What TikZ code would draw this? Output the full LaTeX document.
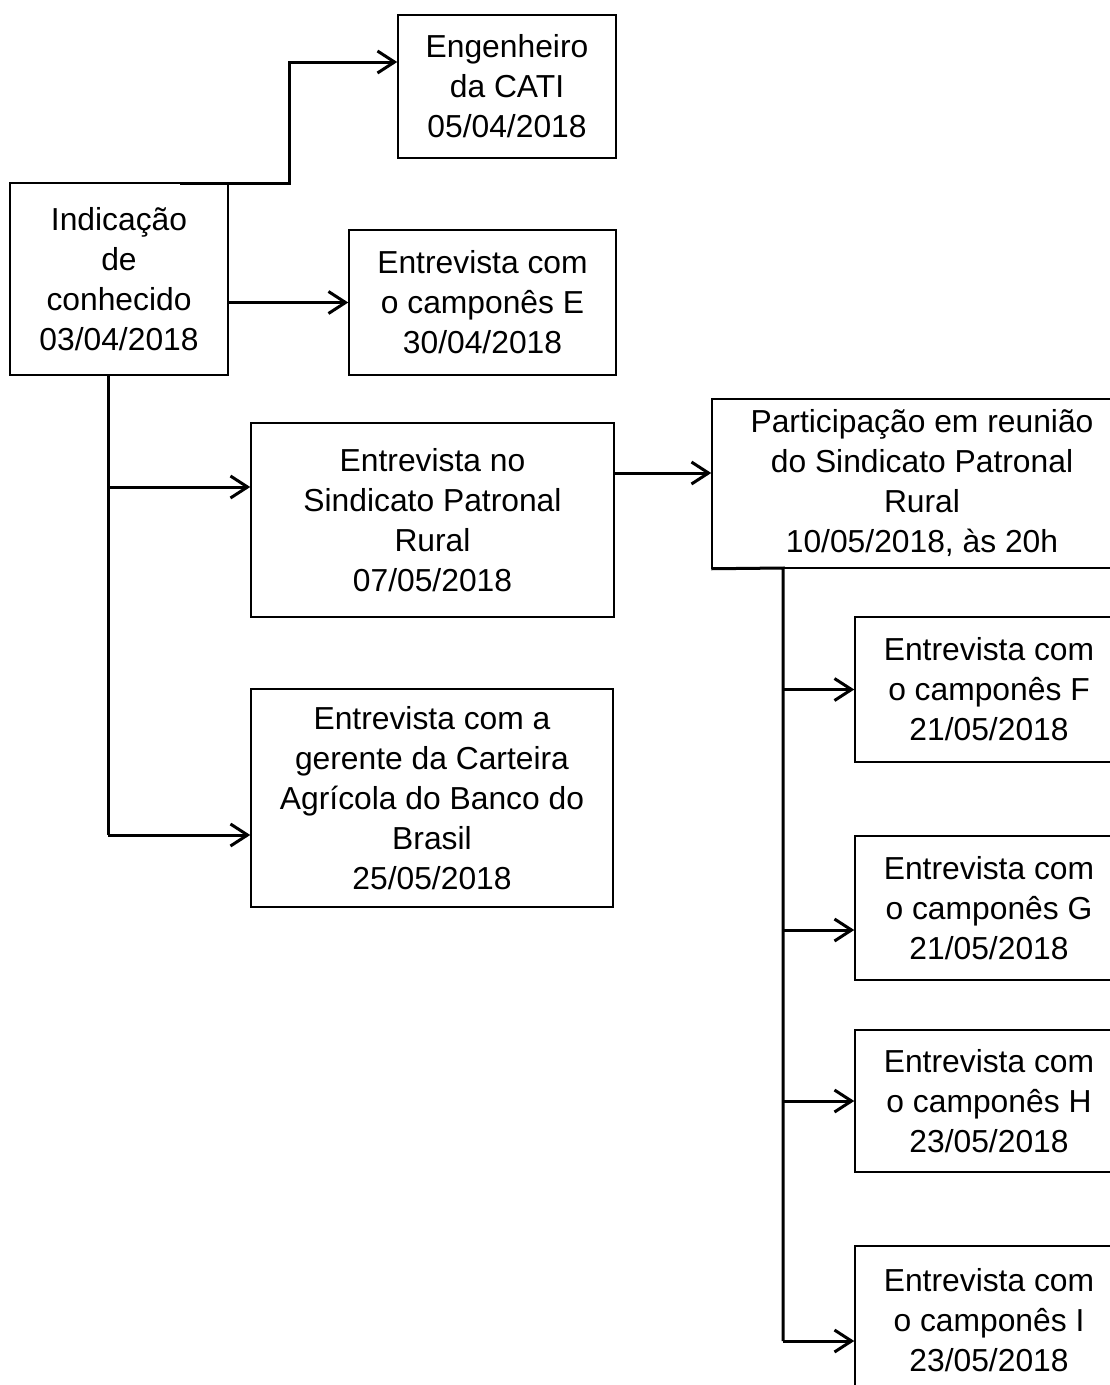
\documentclass[tikz,border=0pt]{standalone}
\usepackage{fontspec}
\setmainfont{Liberation Sans}
\usetikzlibrary{arrows.meta}
\tikzset{
  box/.style={draw=black, line width=1.5pt, inner sep=0pt, align=center,
    font=\fontsize{31.8}{40}\selectfont},
  link/.style={draw=black, line width=3pt},
  arr/.style={link, -{Straight Barb[length=17pt, width=22pt, line width=3pt]}}
}
\begin{document}
\begin{tikzpicture}[x=1pt, y=-1pt]
\useasboundingbox (0,0) rectangle (1110,1385);
\clip (0,0) rectangle (1110,1385);
\fill[white] (0,0) rectangle (1110,1385);

\node[box, minimum width=218pt, minimum height=143pt] (eng) at (507,86.5) {Engenheiro\\da CATI\\05/04/2018};
\node[box, minimum width=218pt, minimum height=192pt] (ind) at (119,279) {Indicação\\de\\conhecido\\03/04/2018};
\node[box, minimum width=267pt, minimum height=145pt] (e) at (482.5,302.5) {Entrevista com\\o camponês E\\30/04/2018};
\node[box, minimum width=363pt, minimum height=194pt] (sind) at (432.5,520) {Entrevista no\\Sindicato Patronal\\Rural\\07/05/2018};
\node[box, minimum width=362pt, minimum height=218pt] (banco) at (432,798) {Entrevista com a\\gerente da Carteira\\Agrícola do Banco do\\Brasil\\25/05/2018};
\node[box, minimum width=420pt, minimum height=169pt] (part) at (922,483.5) {Participação em reunião\\do Sindicato Patronal\\Rural\\10/05/2018, às 20h};
\node[box, minimum width=268pt, minimum height=145pt] (f) at (989,689.5) {Entrevista com\\o camponês F\\21/05/2018};
\node[box, minimum width=268pt, minimum height=144pt] (g) at (989,908) {Entrevista com\\o camponês G\\21/05/2018};
\node[box, minimum width=268pt, minimum height=142pt] (h) at (989,1101) {Entrevista com\\o camponês H\\23/05/2018};
\node[box, minimum width=268pt, minimum height=148pt] (i) at (989,1320) {Entrevista com\\o camponês I\\23/05/2018};

% Indicação -> Engenheiro
\coordinate (s1) at (180,183);
\coordinate (b1) at (289,62);
\draw[arr] (s1) -| (b1) -- (b1 -| eng.west);

% Indicação -> E
\draw[arr] (ind.east |- e.west) -- (e.west);

% Indicação trunk
\coordinate (tA) at (108,487);
\coordinate (tB) at (108,835);
\draw[link] (ind.south -| tA) -- (tB);
\draw[arr] (tA) -- (tA -| sind.west);
\draw[arr] (tB) -- (tB -| banco.west);

% Sindicato -> Participação
\coordinate (pa) at (0,473);
\draw[arr] (sind.east |- pa) -- (part.west |- pa);

% Participação trunk
\coordinate (pt) at (783,568);
\coordinate (yi) at (783,1341);
\coordinate (yg) at (783,930);
\draw[link] (part.south west) -- (pt) -- (yi);
\draw[arr] (pt |- f.west) -- (f.west);
\draw[arr] (yg) -- (yg -| g.west);
\draw[arr] (pt |- h.west) -- (h.west);
\draw[arr] (yi) -- (yi -| i.west);
\end{tikzpicture}
\end{document}
